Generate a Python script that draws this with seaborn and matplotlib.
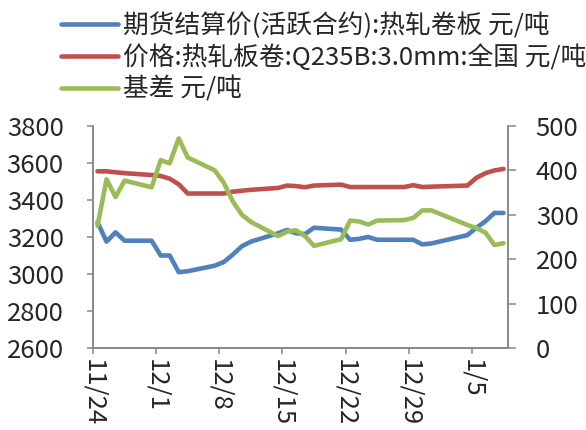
import matplotlib
matplotlib.use('Agg')
import matplotlib.pyplot as plt
import seaborn as sns
import pandas as pd

# trading days, 2015-11-24 .. 2016-01-08
dates = ['2015-11-24', '2015-11-25', '2015-11-26', '2015-11-27', '2015-11-30',
         '2015-12-01', '2015-12-02', '2015-12-03', '2015-12-04', '2015-12-07',
         '2015-12-08', '2015-12-09', '2015-12-10', '2015-12-11', '2015-12-14',
         '2015-12-15', '2015-12-16', '2015-12-17', '2015-12-18', '2015-12-21',
         '2015-12-22', '2015-12-23', '2015-12-24', '2015-12-25', '2015-12-28',
         '2015-12-29', '2015-12-30', '2015-12-31', '2016-01-04', '2016-01-05',
         '2016-01-06', '2016-01-07', '2016-01-08']

futures = [3280, 3175, 3225, 3180, 3180, 3100, 3100, 3010, 3015, 3045,
           3065, 3105, 3150, 3175, 3220, 3238, 3220, 3216, 3250, 3240,
           3185, 3190, 3200, 3185, 3185, 3185, 3160, 3165, 3210, 3250,
           3285, 3330, 3330]

spot = [3555, 3555, 3550, 3545, 3535, 3530, 3515, 3485, 3435, 3435,
        3435, 3445, 3450, 3455, 3465, 3478, 3475, 3469, 3478, 3483,
        3470, 3470, 3470, 3470, 3470, 3480, 3470, 3472, 3478, 3520,
        3545, 3560, 3568]

basis = [275, 380, 340, 377, 362, 423, 416, 472, 429, 400,
         372, 330, 300, 284, 252, 262, 265, 252, 230, 245,
         287, 285, 278, 287, 288, 293, 310, 310, 277, 270,
         260, 232, 236]

tick_labels = ['11/24', '12/1', '12/8', '12/15', '12/22', '12/29', '1/5']

names = ['期货结算价(活跃合约):热轧卷板 元/吨',
         '价格:热轧板卷:Q235B:3.0mm:全国 元/吨',
         '基差 元/吨']
colors = ['#4F81BD', '#C0504D', '#9BBB59']

sns.set_style('white')
plt.rcParams['font.family'] = ['Noto Sans CJK SC', 'DejaVu Sans']

df = pd.DataFrame({'date': pd.to_datetime(dates), 'futures': futures,
                   'spot': spot, 'basis': basis})
# excel date axis puts each point in the middle of its day
df['day'] = (df['date'] - df['date'].iloc[0]).dt.days + 0.5

fig = plt.figure(figsize=(5.86, 4.30), dpi=100)
ax = fig.add_axes([0.1587, 0.1907, 0.7082, 0.5163])
ax2 = ax.twinx()

lw = 3.3
sns.lineplot(data=df, x='day', y='futures', ax=ax, color=colors[0], lw=lw, label=names[0], legend=False)
sns.lineplot(data=df, x='day', y='spot', ax=ax, color=colors[1], lw=lw, label=names[1], legend=False)
sns.lineplot(data=df, x='day', y='basis', ax=ax2, color=colors[2], lw=lw, label=names[2], legend=False)

ax.set_xlim(0, 46)
ax.set_ylim(2600, 3800)
ax2.set_ylim(0, 500)
ax.set_yticks(range(2600, 3801, 200))
ax2.set_yticks(range(0, 501, 100))
ax.set_xticks(range(0, 43, 7))
ax.set_xticklabels(tick_labels, rotation=-90)
for a in (ax, ax2):
    a.set_xlabel('')
    a.set_ylabel('')
    a.spines['top'].set_visible(False)
    for s in ('left', 'right', 'bottom'):
        a.spines[s].set_color('#868686')
        a.spines[s].set_linewidth(1.1)
fs = 18.5
ax.tick_params(axis='y', which='major', direction='out', length=4, width=1.1,
               color='#868686', labelsize=fs, pad=17, left=True)
ax.tick_params(axis='x', which='major', direction='out', length=4, width=1.1,
               color='#868686', labelsize=fs, pad=4, bottom=True)
ax2.tick_params(axis='y', which='major', direction='out', length=6, width=1.1,
                color='#868686', labelsize=fs, pad=14, right=True)

handles = ax.get_lines()[:2] + ax2.get_lines()[:1]
fig.legend(handles, names, loc='upper left', bbox_to_anchor=(0.1, 0.978),
           frameon=False, fontsize=18.5, handlelength=2.2, handletextpad=0.2,
           labelspacing=0.22, borderpad=0.1, borderaxespad=0)

fig.savefig('out.png', dpi=100)
